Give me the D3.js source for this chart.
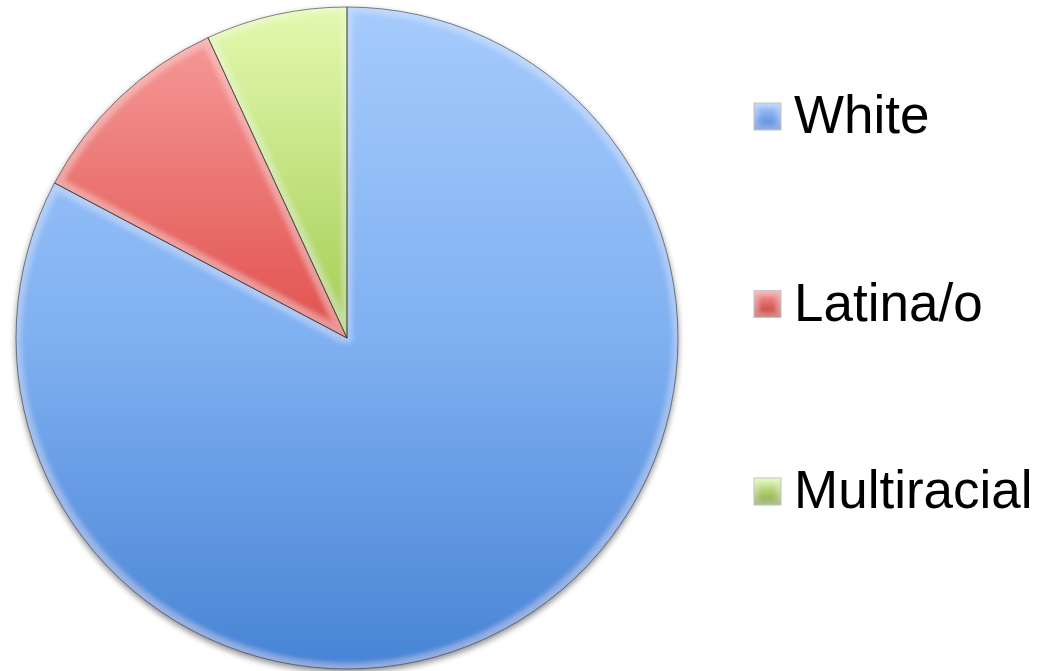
<!DOCTYPE html>
<html><head><meta charset="utf-8">
<script src="https://cdn.jsdelivr.net/npm/d3@7"></script>
<style>body{margin:0;background:#fff}svg{display:block}</style>
</head><body>
<svg id="chart" width="1049" height="671"></svg>
<script>
const categories = ["White", "Latina/o", "Multiracial"];
const values = [24, 3, 2];
const topColors = ["#a6cbfc", "#f7a09e", "#e4f9b0"];
const midColors = ["#7fb0f1", "#e0514e", "#a3cc52"];
const botColors = ["#4884d5", "#c0302c", "#7ea332"];

const svg = d3.select("#chart");
const cx = 347, cy = 338, r = 331;
const defs = svg.append("defs");

categories.forEach((c, i) => {
  const g = defs.append("linearGradient").attr("id", "g" + i)
    .attr("gradientUnits", "userSpaceOnUse")
    .attr("x1", 0).attr("y1", -r).attr("x2", 0).attr("y2", r);
  g.append("stop").attr("offset", "0%").attr("stop-color", topColors[i]);
  g.append("stop").attr("offset", "50%").attr("stop-color", midColors[i]);
  g.append("stop").attr("offset", "100%").attr("stop-color", botColors[i]);
  const lg = defs.append("linearGradient").attr("id", "lg" + i)
    .attr("x1", 0).attr("y1", 0).attr("x2", 0).attr("y2", 1);
  lg.append("stop").attr("offset", "0%").attr("stop-color", topColors[i]);
  lg.append("stop").attr("offset", "100%").attr("stop-color", botColors[i]);
});

const shadow = defs.append("filter").attr("id", "shadow")
  .attr("x", "-10%").attr("y", "-10%").attr("width", "120%").attr("height", "120%");
shadow.append("feGaussianBlur").attr("in", "SourceAlpha").attr("stdDeviation", 3).attr("result", "b");
shadow.append("feOffset").attr("in", "b").attr("dx", 0).attr("dy", 3).attr("result", "o");
shadow.append("feComponentTransfer").attr("in", "o").attr("result", "o2")
  .append("feFuncA").attr("type", "linear").attr("slope", 0.45);
const m = shadow.append("feMerge");
m.append("feMergeNode").attr("in", "o2");
m.append("feMergeNode").attr("in", "SourceGraphic");

// soft inner edge highlight
const bevel = defs.append("filter").attr("id", "bevel")
  .attr("x", "-5%").attr("y", "-5%").attr("width", "110%").attr("height", "110%");
bevel.append("feMorphology").attr("in", "SourceAlpha").attr("operator", "erode").attr("radius", 5).attr("result", "er");
bevel.append("feGaussianBlur").attr("in", "er").attr("stdDeviation", 2.5).attr("result", "erb");
bevel.append("feComposite").attr("in", "SourceAlpha").attr("in2", "erb").attr("operator", "out").attr("result", "edge");
bevel.append("feFlood").attr("flood-color", "#ffffff").attr("flood-opacity", 0.25).attr("result", "wh");
bevel.append("feComposite").attr("in", "wh").attr("in2", "edge").attr("operator", "in").attr("result", "hl");
const bm = bevel.append("feMerge");
bm.append("feMergeNode").attr("in", "SourceGraphic");
bm.append("feMergeNode").attr("in", "hl");

const pie = d3.pie().sort(null).value(d => d)(values);
const arc = d3.arc().innerRadius(0).outerRadius(r);

const g = svg.append("g").attr("filter", "url(#shadow)");
g.selectAll("path").data(pie).enter().append("path")
  .attr("transform", `translate(${cx},${cy})`)
  .attr("d", arc)
  .attr("fill", (d, i) => `url(#g${i})`)
  .attr("filter", "url(#bevel)");
// outlines on top of the highlight
g.selectAll("path.o").data(pie).enter().append("path").attr("class", "o")
  .attr("transform", `translate(${cx},${cy})`)
  .attr("d", arc)
  .attr("fill", "none")
  .attr("stroke", "rgba(40,40,40,0.55)")
  .attr("stroke-width", 1);

// legend
const ly = d3.scalePoint().domain(categories).range([133, 508]);
const leg = svg.append("g");
categories.forEach((c, i) => {
  const y = ly(c);
  leg.append("rect").attr("x", 754).attr("y", y - 30).attr("width", 27).attr("height", 27)
    .attr("fill", `url(#lg${i})`).attr("stroke", "#b0b0b0").attr("stroke-width", 1)
    .attr("filter", "url(#bevel)");
  leg.append("text").attr("x", 794).attr("y", y)
    .attr("font-family", "Liberation Sans, Arial, sans-serif")
    .attr("font-size", 53).attr("fill", "#000").text(c);
});
</script>
</body></html>
